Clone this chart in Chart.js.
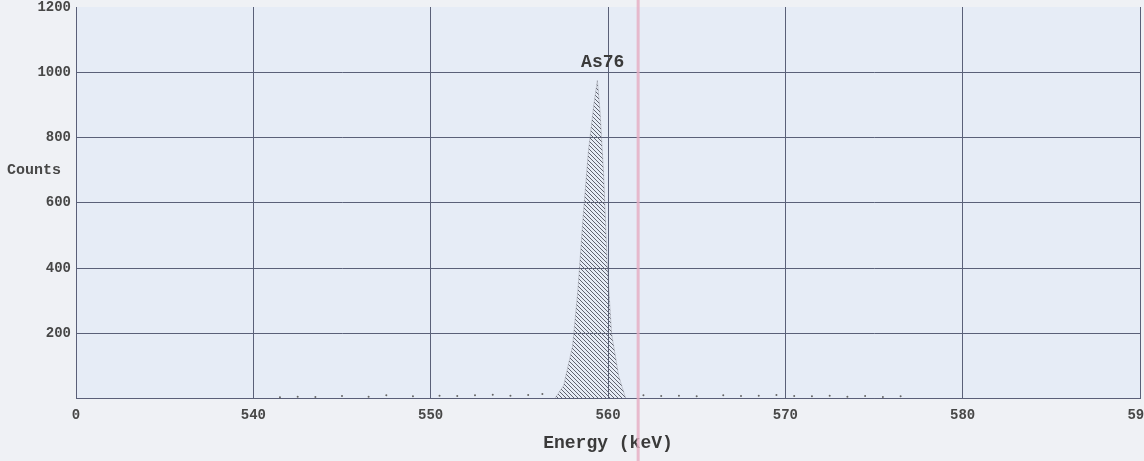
<!DOCTYPE html>
<html><head><meta charset="utf-8">
<script src="https://cdn.jsdelivr.net/npm/chart.js@4/dist/chart.umd.min.js"></script>
<style>html,body{margin:0;padding:0;background:#eff1f5}#wrap{width:1144px;height:461px}</style>
</head><body><div id="wrap"><canvas id="c" width="1144" height="461"></canvas></div>
<script>
const xTickLabels = ['0','540','550','560','570','580','590'];
const yTickLabels = ['', '200', '400', '600', '800', '1000', '1200'];
const peakEnergy = [557.0, 557.5, 558.0, 558.3, 558.6, 558.9, 559.2, 559.4, 559.55, 559.75, 559.95, 560.2, 560.6, 561.0];
const peakCounts = [0, 40, 160, 330, 560, 760, 900, 975, 880, 690, 420, 200, 70, 0];
const noiseEnergy = [541.5, 542.5, 543.5, 545, 546.5, 547.5, 549, 550.5, 551.5, 552.5, 553.5, 554.5, 555.5, 556.3, 562, 563, 564, 565, 566.5, 567.5, 568.5, 569.5, 570.5, 571.5, 572.5, 573.5, 574.5, 575.5, 576.5];
const noiseCounts = [4, 6, 5, 8, 6, 10, 7, 9, 8, 10, 12, 9, 11, 14, 10, 8, 9, 7, 10, 8, 9, 11, 8, 7, 9, 6, 8, 5, 7];
const peakLabel = 'As76';
const markerEnergy = 561.7;
const xTitle = 'Energy (keV)';
const yTitle = 'Counts';

const MONO = '"Liberation Mono", "DejaVu Sans Mono", monospace';

// hatch pattern
const pc = document.createElement('canvas');
pc.width = 4; pc.height = 4;
const pctx = pc.getContext('2d');
pctx.strokeStyle = '#60636f';
pctx.lineWidth = 1;
pctx.beginPath();
pctx.moveTo(0,0); pctx.lineTo(4,4);
pctx.moveTo(-1,3); pctx.lineTo(1,5);
pctx.moveTo(3,-1); pctx.lineTo(5,1);
pctx.stroke();
const hatch = document.getElementById('c').getContext('2d').createPattern(pc, 'repeat');

const bgPlugin = {
  id: 'bg',
  beforeDraw(chart) {
    const {ctx, chartArea: a} = chart;
    ctx.save();
    ctx.fillStyle = '#eff1f5';
    ctx.fillRect(0, 0, chart.width, chart.height);
    ctx.fillStyle = '#e6ecf6';
    ctx.fillRect(a.left, a.top, a.right - a.left, a.bottom - a.top);
    ctx.restore();
  },
  afterDraw(chart) {
    const {ctx, scales: {x, y}} = chart;
    ctx.save();
    const mx = x.getPixelForValue(markerEnergy);
    ctx.strokeStyle = 'rgba(230,172,194,0.8)';
    ctx.lineWidth = 3;
    ctx.beginPath(); ctx.moveTo(mx, 0); ctx.lineTo(mx, chart.height); ctx.stroke();
    ctx.fillStyle = '#3a3a3a';
    ctx.font = 'bold 18px ' + MONO;
    ctx.textAlign = 'center'; ctx.textBaseline = 'middle';
    ctx.fillText(peakLabel, x.getPixelForValue(559.7), y.getPixelForValue(1030));
    ctx.font = 'bold 15px ' + MONO;
    ctx.textAlign = 'left';
    ctx.fillStyle = '#474747';
    ctx.fillText(yTitle, 7, y.getPixelForValue(700));
    ctx.restore();
  }
};

new Chart(document.getElementById('c'), {
  type: 'line',
  data: {
    datasets: [
      {
        data: peakEnergy.map((e, i) => ({x: e, y: peakCounts[i]})),
        fill: 'origin',
        backgroundColor: hatch,
        borderColor: 'rgba(110,110,120,0.6)',
        borderWidth: 0.5,
        pointRadius: 0,
        tension: 0
      },
      {
        data: noiseEnergy.map((e, i) => ({x: e, y: noiseCounts[i]})),
        showLine: false,
        pointRadius: 1,
        pointBackgroundColor: '#666',
        pointBorderWidth: 0
      }
    ]
  },
  options: {
    responsive: false,
    animation: false,
    devicePixelRatio: 1,
    layout: {padding: {top: 7, right: 3, left: 0, bottom: 7}},
    plugins: {legend: {display: false}, tooltip: {enabled: false}},
    scales: {
      x: {
        type: 'linear', min: 530, max: 590,
        border: {display: true, color: '#5a5f78', width: 1},
        grid: {color: '#5a6078', lineWidth: 1, drawTicks: false},
        ticks: {
          stepSize: 10, autoSkip: false, maxRotation: 0, padding: 8,
          color: '#474747', font: {family: MONO, size: 14, weight: 'bold'},
          callback: (v, i) => xTickLabels[i]
        },
        title: {display: true, text: xTitle, color: '#3a3a3a', padding: {top: 1, bottom: 0},
                font: {family: MONO, size: 18, weight: 'bold'}},
        afterFit(s) { s.paddingLeft = 0; s.paddingRight = 0; }
      },
      y: {
        min: 0, max: 1200,
        border: {display: true, color: '#5a5f78', width: 1},
        grid: {color: (c) => c.tick && c.tick.value === 1200 ? 'rgba(0,0,0,0)' : '#5a6078', lineWidth: 1, drawTicks: false},
        ticks: {
          stepSize: 200, padding: 5,
          color: '#474747', font: {family: MONO, size: 14, weight: 'bold'},
          callback: (v, i) => yTickLabels[i]
        },
        afterFit(s) { s.width = 76; s.paddingTop = 0; s.paddingBottom = 0; }
      }
    }
  },
  plugins: [bgPlugin]
});
</script>
</body></html>
